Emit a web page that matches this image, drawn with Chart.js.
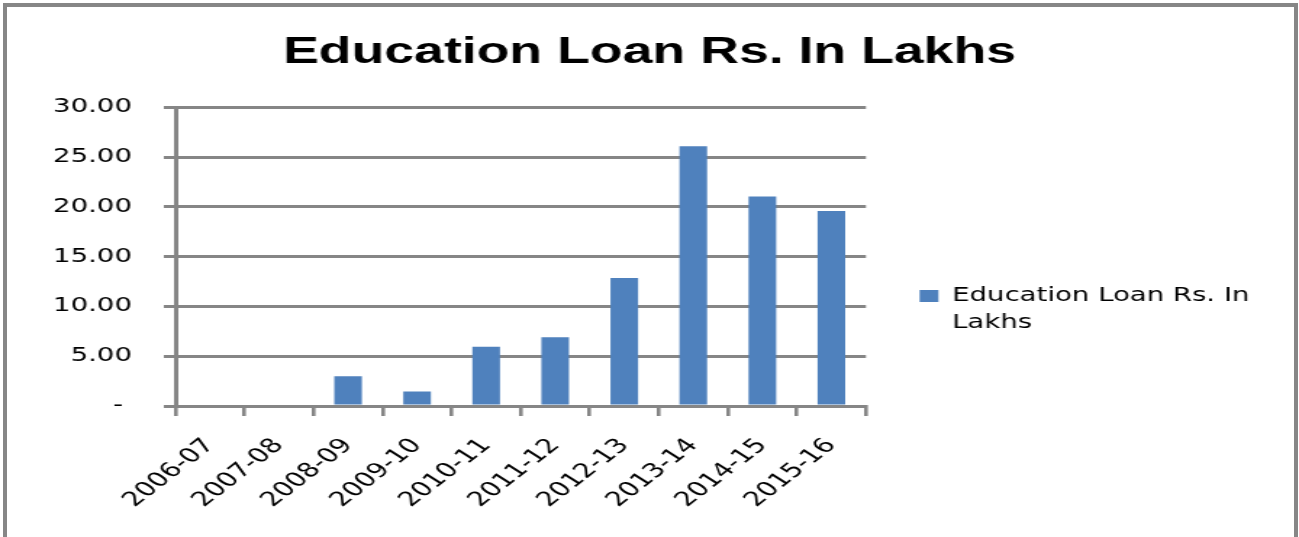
<!DOCTYPE html>
<html>
<head>
<meta charset="utf-8">
<title>Education Loan Rs. In Lakhs</title>
<script src="https://cdn.jsdelivr.net/npm/chart.js@4/dist/chart.umd.min.js"></script>
<style>
    html, body { margin: 0; padding: 0; background: #fff; overflow: hidden; }
    #wrap { position: relative; width: 1299px; height: 537px; overflow: hidden; }
    #chart { position: absolute; left: 0; top: 0; }
    #frame {
        position: absolute; left: 3px; top: 3px; width: 1287px; height: 700px;
        border: 4px solid #868686; pointer-events: none;
    }
</style>
</head>
<body>
<div id="wrap">
    <!-- the source picture is stretched sideways, so the canvas is drawn narrow and widened by its inline style -->
    <canvas id="chart" width="896" height="628" style="width: 1299px; height: 628px;"></canvas>
    <div id="frame"></div>
</div>
<script>
// data
const years = ['2006-07', '2007-08', '2008-09', '2009-10', '2010-11',
               '2011-12', '2012-13', '2013-14', '2014-15', '2015-16'];
const loanLakhs = [0, 0, 3.0, 1.45, 5.95, 6.9, 12.85, 26.1, 21.05, 19.6];
const seriesName = 'Education Loan Rs. In Lakhs';
const yMin = 0;
const yMax = 30;
const yStep = 5;

const gray = '#868686';
const barBlue = '#4F81BD';
const tickFont = { family: 'DejaVu Sans', size: 19 };

// excel style accounting labels: zero shows as a dash
function yLabel(value) {
    return value === 0 ? '- ' : value.toFixed(2);
}

// legend text wraps after "In", like the original.
// trailing spaces keep some blank room right of the legend
function wrapLabel(text) {
    const cut = text.lastIndexOf(' ');
    return [text.slice(0, cut) + '    ', text.slice(cut + 1)];
}

const ctx = document.getElementById('chart');
new Chart(ctx, {
    type: 'bar',
    data: {
        labels: years,
        datasets: [{
            label: seriesName,
            data: loanLakhs,
            backgroundColor: barBlue,
            borderWidth: 0,
            barPercentage: 0.4,
            categoryPercentage: 1.0
        }]
    },
    options: {
        responsive: false,
        devicePixelRatio: 1,
        animation: false,
        layout: { padding: 0 },
        plugins: {
            tooltip: { enabled: false },
            title: {
                display: true,
                text: seriesName,
                color: '#000',
                font: { family: 'Liberation Sans', size: 37, weight: 'bold', lineHeight: 1.2 },
                padding: { top: 31, bottom: 32 }
            },
            legend: {
                position: 'right',
                maxWidth: 320,
                labels: {
                    boxWidth: 13,
                    boxHeight: 12,
                    padding: 37,
                    color: '#000',
                    font: { family: 'DejaVu Sans', size: 19, lineHeight: 1.45 },
                    generateLabels: chart => {
                        const items = Chart.defaults.plugins.legend.labels.generateLabels(chart);
                        return items.map(item => ({ ...item, text: wrapLabel(item.text), lineWidth: 0 }));
                    }
                }
            }
        },
        scales: {
            x: {
                offset: true,
                grid: {
                    offset: true,
                    drawOnChartArea: false,
                    drawTicks: true,
                    tickLength: 10,
                    color: gray,
                    lineWidth: 2.6
                },
                border: { color: gray, width: 3 },
                ticks: {
                    autoSkip: false,
                    minRotation: 48,
                    maxRotation: 48,
                    padding: 18,
                    color: '#000',
                    font: { family: 'DejaVu Sans', size: 20 }
                },
                afterFit: scale => { scale.height = 222; }
            },
            y: {
                min: yMin,
                max: yMax,
                grid: {
                    color: gray,
                    lineWidth: 3,
                    drawTicks: true,
                    tickLength: 8
                },
                border: { color: gray, width: 3 },
                ticks: {
                    stepSize: yStep,
                    padding: 22,
                    color: '#000',
                    font: tickFont,
                    callback: value => yLabel(value)
                },
                afterFit: scale => { scale.width = 121; }
            }
        }
    }
});
</script>
</body>
</html>
